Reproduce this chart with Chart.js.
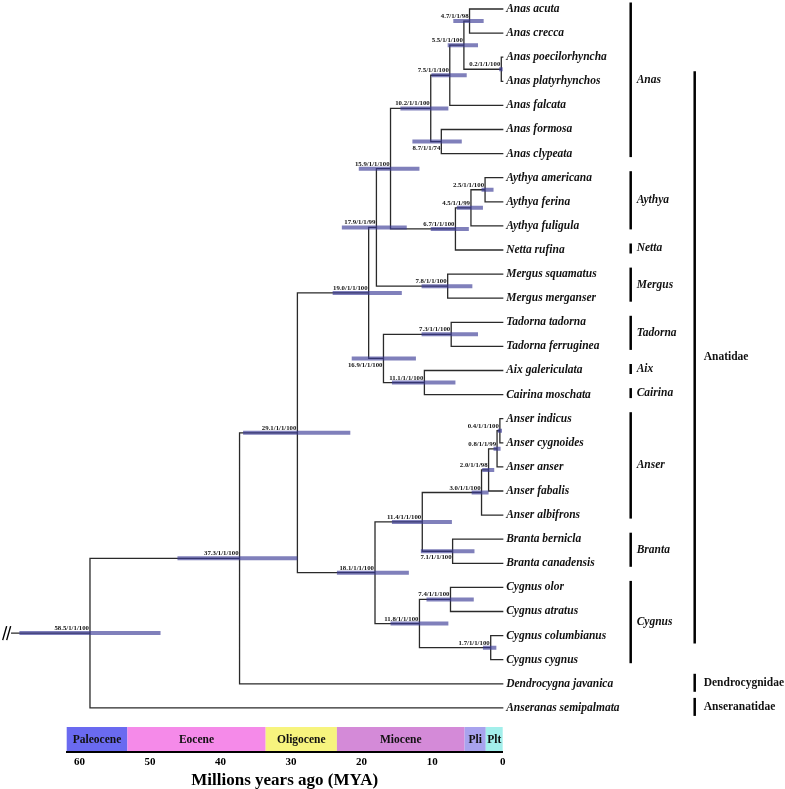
<!DOCTYPE html>
<html><head><meta charset="utf-8">
<script src="https://cdn.jsdelivr.net/npm/chart.js@4/dist/chart.umd.min.js"></script>
<style>html,body{margin:0;padding:0;background:#fff;}#wrap{width:785px;height:789px;position:relative;}</style>
</head><body><div id="wrap"><canvas id="c"></canvas></div>
<script>
// ---------------- DATA ----------------
const tipNames = [
  'Anas acuta','Anas crecca','Anas poecilorhyncha','Anas platyrhynchos','Anas falcata','Anas formosa','Anas clypeata',
  'Aythya americana','Aythya ferina','Aythya fuligula','Netta rufina','Mergus squamatus','Mergus merganser',
  'Tadorna tadorna','Tadorna ferruginea','Aix galericulata','Cairina moschata',
  'Anser indicus','Anser cygnoides','Anser anser','Anser fabalis','Anser albifrons',
  'Branta bernicla','Branta canadensis','Cygnus olor','Cygnus atratus','Cygnus columbianus','Cygnus cygnus',
  'Dendrocygna javanica','Anseranas semipalmata'
];
const nodeAges = [4.7,0.2,5.5,7.5,8.7,10.2,2.5,4.5,6.7,15.9,7.8,17.9,7.3,11.1,16.9,19.0,0.4,0.8,2.0,3.0,7.1,11.4,7.4,1.7,11.8,18.1,29.1,37.3,58.5];
const nodeChildren = [
  ['t0','t1'],['t2','t3'],['n0','n1'],['n2','t4'],['t5','t6'],['n3','n4'],
  ['t7','t8'],['n6','t9'],['n7','t10'],['n5','n8'],['t11','t12'],['n9','n10'],
  ['t13','t14'],['t15','t16'],['n12','n13'],['n11','n14'],
  ['t17','t18'],['n16','t19'],['n17','t20'],['n18','t21'],['t22','t23'],['n19','n20'],
  ['t24','t25'],['t26','t27'],['n22','n23'],['n21','n24'],['n15','n25'],['n26','t28'],['n27','t29']
];
const hpdOld   = [7.0,0.5,7.8,10.1,12.8,14.5,3.0,6.5,10.2,20.4,11.5,22.8,11.5,15.7,21.4,24.1,0.7,1.3,2.9,4.4,11.6,15.7,10.8,2.8,15.9,23.5,36.8,46.1,68.5];
const hpdYoung = [2.7,0.0,3.5,5.1,5.8,7.7,1.3,2.8,4.8,11.8,4.3,13.6,3.5,6.7,12.3,14.3,0.1,0.3,1.2,2.0,4.0,7.2,4.1,0.9,7.7,13.3,21.6,29.1,48.5];
const nodeSupport = ['1/1/98','1/1/100','1/1/100','1/1/100','1/1/74','1/1/100','1/1/100','1/1/99','1/1/100','1/1/100',
  '1/1/100','1/1/99','1/1/100','1/1/100','1/1/100','1/1/100','1/1/100','1/1/99','1/1/98','1/1/100','1/1/100','1/1/100',
  '1/1/100','1/1/100','1/1/100','1/1/100','1/1/100','1/1/100','1/1/100'];
const rootStemAge = 69.6;
const genusNames = ['Anas','Aythya','Netta','Mergus','Tadorna','Aix','Cairina','Anser','Branta','Cygnus'];
const genusFrom  = [0,7,10,11,13,15,16,17,22,24];
const genusTo    = [6,9,10,12,14,15,16,21,23,27];
const familyNames = ['Anatidae','Dendrocygnidae','Anseranatidae'];
const familyFrom  = [3,28,29];
const familyTo    = [26,28,29];
const epochNames  = ['Paleocene','Eocene','Oligocene','Miocene','Pli','Plt'];
const epochStart  = [61.8,53.2,33.6,23.5,5.4,2.4];
const epochEnd    = [53.2,33.6,23.5,5.4,2.4,0];
const xTickValues = [60,50,40,30,20,10,0];

// ---------------- STYLE ----------------
const SERIF = "'Liberation Serif','Times New Roman',serif";
const epochColors = ['#6a6af0','#f58ae9','#f7f47e','#d48ad8','#a8a3ee','#a3efeb'];
const labelBelow = [4,14,20];
const Y_MIN = -0.3734, PX_PER_ROW = 24.1, PLOT_BOTTOM = 752;
const Y_MAX = Y_MIN + PLOT_BOTTOM / PX_PER_ROW;

// ---------------- TREE GEOMETRY (values only) ----------------
const nodeY = [];
function ageOf(ref){ return ref[0]==='t' ? 0 : nodeAges[+ref.slice(1)]; }
function rowOf(ref){ return ref[0]==='t' ? +ref.slice(1) : nodeY[+ref.slice(1)]; }
nodeChildren.forEach((k,i)=>{ nodeY[i] = (rowOf(k[0]) + rowOf(k[1]))/2; });
const GAP = {x:null, y:null};
const branchData = [];
nodeChildren.forEach((k,i)=>{
  const a = nodeAges[i];
  branchData.push({x:ageOf(k[0]), y:rowOf(k[0])},{x:a, y:rowOf(k[0])},{x:a, y:rowOf(k[1])},{x:ageOf(k[1]), y:rowOf(k[1])}, GAP);
});
const rootIdx = nodeAges.length-1;
branchData.push({x:rootStemAge, y:nodeY[rootIdx]},{x:nodeAges[rootIdx], y:nodeY[rootIdx]});
const hpdData = [];
nodeAges.forEach((a,i)=>{ hpdData.push({x:hpdOld[i], y:nodeY[i]},{x:hpdYoung[i], y:nodeY[i]}, GAP); });

// ---------------- PLUGIN: epochs, labels, clade bars ----------------
const treeDeco = {
  id:'treeDeco',
  beforeDraw(chart){
    const {ctx, scales:{x}, chartArea:ca} = chart;
    ctx.save();
    epochNames.forEach((n,i)=>{
      const x0 = x.getPixelForValue(epochStart[i]), x1 = x.getPixelForValue(epochEnd[i]);
      ctx.fillStyle = epochColors[i];
      ctx.fillRect(x0, ca.bottom-25, x1-x0, 25);
      ctx.fillStyle = '#111';
      ctx.font = 'bold 11.5px ' + SERIF;
      ctx.textAlign='center'; ctx.textBaseline='middle';
      ctx.fillText(n, (x0+x1)/2, ca.bottom-12);
    });
    ctx.restore();
  },
  afterDatasetsDraw(chart){
    const {ctx, scales:{x,y}, chartArea:ca} = chart;
    ctx.save();
    // node labels
    ctx.fillStyle='#111';
    ctx.font = 'bold 6.8px ' + SERIF;
    ctx.textAlign='right';
    nodeAges.forEach((a,i)=>{
      const px = x.getPixelForValue(a), py = y.getPixelForValue(nodeY[i]);
      const txt = a.toFixed(1) + '/' + nodeSupport[i];
      if (labelBelow.includes(i)) { ctx.textBaseline='top'; ctx.fillText(txt, px-1, py+3); }
      else { ctx.textBaseline='alphabetic'; ctx.fillText(txt, px-1, py-3); }
    });
    // tip labels
    ctx.font = 'italic bold 11.5px ' + SERIF;
    ctx.textAlign='left'; ctx.textBaseline='middle';
    tipNames.forEach((n,i)=>{ ctx.fillText(n, ca.right+3.5, y.getPixelForValue(i)); });
    // genus bars
    ctx.strokeStyle='#000'; ctx.lineWidth=2.5; ctx.lineCap='butt';
    genusNames.forEach((n,i)=>{
      const t = y.getPixelForValue(genusFrom[i])-6.5, b = y.getPixelForValue(genusTo[i])+3.5, bx = ca.right+128;
      ctx.beginPath(); ctx.moveTo(bx,t); ctx.lineTo(bx,b); ctx.stroke();
      ctx.font='italic bold 11.5px '+SERIF; ctx.textBaseline='middle';
      ctx.fillText(n, bx+6, (t+b)/2);
    });
    familyNames.forEach((n,i)=>{
      const t = y.getPixelForValue(familyFrom[i])-10, b = y.getPixelForValue(familyTo[i])+8, bx = ca.right+192;
      ctx.beginPath(); ctx.moveTo(bx,t); ctx.lineTo(bx,b); ctx.stroke();
      ctx.font='bold 11.5px '+SERIF; ctx.textBaseline='middle';
      ctx.fillText(n, bx+9, (t+b)/2);
    });
    // break mark on root stem
    const sx = x.getPixelForValue(rootStemAge), sy = y.getPixelForValue(nodeY[rootIdx]);
    ctx.lineWidth=1.4;
    [[-9,-5],[-5,-1]].forEach(([a,b])=>{ ctx.beginPath(); ctx.moveTo(sx+a, sy+7); ctx.lineTo(sx+b, sy-7); ctx.stroke(); });
    ctx.restore();
  }
};

new Chart(document.getElementById('c'), {
  type:'line',
  data:{ datasets:[
    { label:'HPD', data:hpdData, borderColor:'rgba(60,60,150,0.65)', borderWidth:4, pointRadius:0, spanGaps:false, clip:false, order:0, borderCapStyle:'butt' },
    { label:'Branches', data:branchData, borderColor:'#2a2a2a', borderWidth:1.3, pointRadius:0, spanGaps:false, clip:false, order:1, borderCapStyle:'square', borderJoinStyle:'miter' }
  ]},
  options:{
    responsive:true, maintainAspectRatio:false, animation:false,
    layout:{ padding:{ left:66.7, right:282.3, top:0, bottom:0 } },
    plugins:{ legend:{display:false}, tooltip:{enabled:false} },
    elements:{ line:{ tension:0 } },
    scales:{
      x:{ type:'linear', reverse:true, min:0, max:61.8,
          grid:{ display:false, drawTicks:false },
          border:{ display:true, color:'#000', width:2 },
          afterBuildTicks(s){ s.ticks = xTickValues.map(v=>({value:v})); },
          ticks:{ color:'#000', padding:4.5, maxRotation:0, autoSkip:false, font:{ family:SERIF, weight:'bold', size:11, lineHeight:1 } },
          title:{ display:true, text:'Millions years ago (MYA)', color:'#000', padding:0, font:{ family:SERIF, weight:'bold', size:17, lineHeight:1 } } },
      y:{ type:'linear', display:false, reverse:true, min:Y_MIN, max:Y_MAX }
    }
  },
  plugins:[treeDeco]
});
</script>
</body></html>
